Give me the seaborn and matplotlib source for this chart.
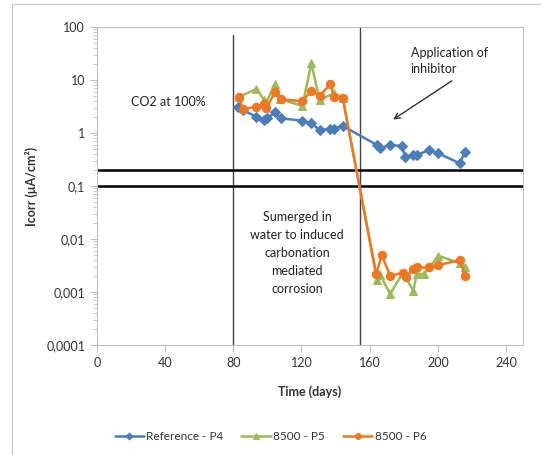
import matplotlib
matplotlib.use("Agg")
import matplotlib.pyplot as plt
import matplotlib.ticker as mticker
from matplotlib.patches import Rectangle
import seaborn as sns
import pandas as pd

# ---- data ----
ref_days = [82.5, 85.4, 93.6, 98.1, 100.0, 104.5, 107.8, 120.5, 125.8, 130.6, 137.0, 139.0, 144.2,
            164.3, 166.2, 171.7, 178.9, 180.8, 185.7, 187.6, 195.0, 200.3, 212.9, 215.8]
ref_icorr = [3.1, 2.7, 2.03, 1.76, 1.89, 2.46, 1.89, 1.71, 1.52, 1.14, 1.2, 1.2, 1.36,
             0.594, 0.514, 0.594, 0.569, 0.357, 0.385, 0.385, 0.478, 0.414, 0.268, 0.433]

p5_days = [83.5, 93.6, 98.1, 99.0, 104.5, 107.4, 120.5, 125.8, 130.6, 139.0, 144.2,
           164.3, 166.2, 172.0, 179.5, 185.7, 187.6, 192.1, 200.3, 213.3, 215.8]
p5_icorr = [4.84, 6.76, 4.2, 3.63, 8.3, 4.3, 3.27, 20.6, 4.2, 5.6, 4.6,
            0.0017, 0.0021, 0.00092, 0.0023, 0.00106, 0.0022, 0.0022, 0.0048, 0.0035, 0.0029]

p6_days = [83.5, 85.4, 93.6, 98.1, 99.4, 104.5, 107.8, 120.5, 125.8, 130.6, 137.0, 139.0, 144.2,
           163.8, 167.2, 172.0, 179.5, 181.4, 185.7, 187.6, 195.0, 200.3, 213.3, 215.8]
p6_icorr = [4.84, 2.8, 3.14, 3.5, 2.92, 6.0, 4.3, 4.0, 6.3, 5.06, 8.3, 4.84, 4.6,
            0.0022, 0.005, 0.002, 0.00231, 0.00196, 0.00268, 0.0029, 0.0029, 0.00323, 0.004, 0.00203]

series_names = ["Reference - P4", "8500 - P5", "8500 - P6"]
y_ticks = [0.0001, 0.001, 0.01, 0.1, 1, 10, 100]
y_tick_labels = ["0,0001", "0,001", "0,01", "0,1", "1", "10", "100"]
x_ticks = [0, 40, 80, 120, 160, 200, 240]
phase_lines = [80, 154.6]
threshold_lines = [0.1, 0.2]

# ---- styling ----
sns.set_style("white")
plt.rcParams["font.family"] = ["Lato", "DejaVu Sans"]

colors = ["#4A7EBB", "#9BBB59", "#EE7722"]
markers = ["D", "^", "o"]
msizes = [5, 6, 6]

fig = plt.figure(figsize=(5.41, 4.55), dpi=100)
ax = fig.add_axes([97/541, 1-345/455, (523-97)/541, (345-27)/455])

# outer chart-area frame
fig.patches.append(Rectangle((12/541, -0.02), 1.0, 1-4/455+0.02, transform=fig.transFigure,
                             fill=False, edgecolor="#C8C8C8", lw=0.8))

datasets = [(ref_days, ref_icorr), (p5_days, p5_icorr), (p6_days, p6_icorr)]
for (d, v), name, c, m, ms in zip(datasets, series_names, colors, markers, msizes):
    df = pd.DataFrame({"Time (days)": d, "Icorr": v})
    sns.lineplot(data=df, x="Time (days)", y="Icorr", ax=ax, sort=False, estimator=None,
                 color=c, marker=m, markersize=ms, markeredgecolor=c, lw=1.8, label=name, zorder=3)

ax.set_yscale("log")
ax.set_ylim(0.0001, 100)
ax.set_xlim(0, 250)

# phase lines
ax.plot([phase_lines[0]]*2, [0.0001, 70], color="#404040", lw=1.0, zorder=2)
ax.axvline(phase_lines[1], color="#404040", lw=1.0, zorder=2)
for t in threshold_lines:
    ax.axhline(t, color="black", lw=1.8, zorder=2)

ax.set_yticks(y_ticks)
ax.set_yticklabels(y_tick_labels)
ax.yaxis.set_minor_locator(mticker.LogLocator(base=10, subs=range(2, 10), numticks=20))
ax.yaxis.set_minor_formatter(mticker.NullFormatter())
ax.set_xticks(x_ticks)

for s in ax.spines.values():
    s.set_color("#BFBFBF")
    s.set_linewidth(0.8)
ax.tick_params(axis="both", which="both", direction="out", color="#BFBFBF", labelsize=9,
               labelcolor="#333333")
ax.tick_params(axis="y", which="major", length=5, left=True)
ax.tick_params(axis="y", which="minor", length=3, left=True)
ax.tick_params(axis="x", which="major", length=5, bottom=True)

ax.set_xlabel("Time (days)", fontsize=9, fontweight="bold", color="#333333", labelpad=12)
ax.set_ylabel("Icorr (μA/cm²)", fontsize=9, fontweight="bold", color="#333333", labelpad=6)

# annotations
ax.text(20, 3.8, "CO2 at 100%", fontsize=9, color="#222222", ha="left", va="center")
ax.text(184, 23, "Application of\ninhibitor", fontsize=9, color="#222222", ha="left", va="center",
        linespacing=1.35)
ax.annotate("", xy=(172.4, 1.68), xytext=(209.6, 10.3),
            arrowprops=dict(arrowstyle="->", color="#333333", lw=1.0))
ax.text(117.5, 0.0054, "Sumerged in\nwater to induced\ncarbonation\nmediated\ncorrosion",
        fontsize=9, color="#222222", ha="center", va="center", linespacing=1.6)

leg = ax.legend(loc="center", bbox_to_anchor=(0.5, 0.04), bbox_transform=fig.transFigure,
                ncol=3, frameon=False, fontsize=8.5, handlelength=2.5, columnspacing=1.5,
                handletextpad=0.2, markerscale=0.7)
for t in leg.get_texts():
    t.set_color("#333333")

fig.savefig("out.png", dpi=100, facecolor="white")
